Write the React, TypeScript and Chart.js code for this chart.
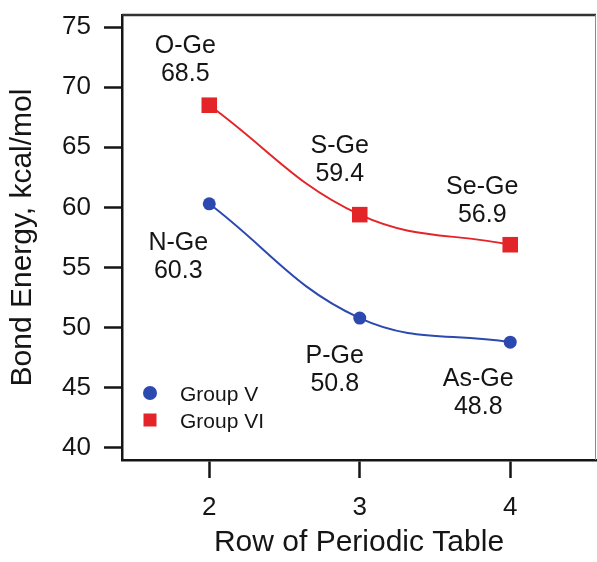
import React, { useEffect, useRef } from 'react';
import { Chart, registerables } from 'chart.js';

Chart.register(...registerables);

const FONT = "'Liberation Sans', Arial, Helvetica, sans-serif";

// ---- data ----
const rows = [2, 3, 4];
const groupVValues = [60.3, 50.8, 48.8];
const groupVIValues = [68.5, 59.4, 56.9];
const groupVBonds = ['N-Ge', 'P-Ge', 'As-Ge'];
const groupVIBonds = ['O-Ge', 'S-Ge', 'Se-Ge'];
const seriesNames = ['Group V', 'Group VI'];
const xTickValues = [2, 3, 4];
const yTickValues = [40, 45, 50, 55, 60, 65, 70, 75];

// ---- label placement (pixel offsets from each point: [dx, dy of first line centre]) ----
const groupVLabelOffsets = [[-31, 37], [-25, 36], [-32, 35]];
const groupVILabelOffsets = [[-24, -61], [-20, -71], [-28, -60]];

const BLUE = '#2c49b0';
const RED = '#e3252a';
const INK = '#151515';

const annotatePlugin = {
  id: 'annotate',
  afterDatasetsDraw(chart: any) {
    const ctx = chart.ctx;
    ctx.save();
    const size = 25;
    ctx.font = `${size}px ${FONT}`;
    ctx.fillStyle = INK;
    ctx.textAlign = 'center';
    ctx.textBaseline = 'alphabetic';
    const half = size * 0.358;
    chart.data.datasets.forEach((ds: any, di: number) => {
      const meta = chart.getDatasetMeta(di);
      meta.data.forEach((pt: any, i: number) => {
        const [dx, dy] = ds.labelOffsets[i];
        const x = pt.x + dx;
        const y = pt.y + dy;
        ctx.fillText(ds.bondNames[i], x, y + half);
        ctx.fillText(ds.data[i].y.toFixed(1), x, y + 28 + half);
      });
    });
    ctx.restore();
  },
};

const framePlugin = {
  id: 'frame',
  afterDraw(chart: any) {
    const { ctx, chartArea } = chart;
    ctx.save();
    ctx.strokeStyle = '#333';
    ctx.lineWidth = 2.5;
    ctx.beginPath();
    ctx.moveTo(chartArea.left, chartArea.top);
    ctx.lineTo(chartArea.right, chartArea.top);
    ctx.stroke();
    ctx.strokeStyle = '#8a8a8a';
    ctx.lineWidth = 1;
    ctx.beginPath();
    ctx.moveTo(chartArea.right - 0.5, chartArea.top);
    ctx.lineTo(chartArea.right - 0.5, chartArea.bottom);
    ctx.stroke();
    ctx.restore();
  },
};

const legendPlugin = {
  id: 'innerLegend',
  afterDraw(chart: any) {
    const { ctx, chartArea } = chart;
    ctx.save();
    ctx.font = `21px ${FONT}`;
    ctx.textAlign = 'left';
    ctx.textBaseline = 'alphabetic';
    const x0 = chartArea.left + 28;
    const ys = [chartArea.bottom - 67, chartArea.bottom - 40];
    chart.data.datasets.forEach((ds: any, di: number) => {
      const y = ys[di];
      ctx.fillStyle = ds.backgroundColor;
      if (ds.pointStyle === 'rect') {
        ctx.fillRect(x0 - 6.5, y - 6.5, 13, 13);
      } else {
        ctx.beginPath();
        ctx.arc(x0, y, 7, 0, Math.PI * 2);
        ctx.fill();
      }
      ctx.fillStyle = INK;
      ctx.fillText(ds.label, x0 + 30, y + 21 * 0.358);
    });
    ctx.restore();
  },
};

const zeroPadding = (s: any) => {
  s.paddingTop = 0;
  s.paddingBottom = 0;
  s.paddingLeft = 0;
  s.paddingRight = 0;
};

export default function App() {
  const ref = useRef<HTMLCanvasElement>(null);

  useEffect(() => {
    if (!ref.current) return;
    const tickFont = { family: FONT, size: 26 };
    const titleFont = { family: FONT, size: 30, lineHeight: 1 };
    const chart = new Chart(ref.current, {
      type: 'line',
      data: {
        datasets: [
          {
            label: seriesNames[0],
            data: rows.map((r, i) => ({ x: r, y: groupVValues[i] })),
            borderColor: BLUE,
            backgroundColor: BLUE,
            pointBackgroundColor: BLUE,
            pointBorderColor: BLUE,
            pointStyle: 'circle',
            pointRadius: 6.5,
            pointBorderWidth: 0,
            borderWidth: 2,
            tension: 0.4,
            bondNames: groupVBonds,
            labelOffsets: groupVLabelOffsets,
          } as any,
          {
            label: seriesNames[1],
            data: rows.map((r, i) => ({ x: r, y: groupVIValues[i] })),
            borderColor: RED,
            backgroundColor: RED,
            pointBackgroundColor: RED,
            pointBorderColor: RED,
            pointStyle: 'rect',
            pointRadius: 11,
            pointBorderWidth: 0,
            borderWidth: 2,
            tension: 0.4,
            bondNames: groupVIBonds,
            labelOffsets: groupVILabelOffsets,
          } as any,
        ],
      },
      options: {
        responsive: false,
        animation: false,
        events: [],
        layout: { autoPadding: false, padding: { top: 15, right: 1, left: 0, bottom: 0 } },
        plugins: {
          legend: { display: false },
          tooltip: { enabled: false },
        },
        scales: {
          x: {
            type: 'linear',
            min: 1.42,
            max: 4.57,
            afterBuildTicks: (s: any) => {
              s.ticks = xTickValues.map((v) => ({ value: v }));
            },
            afterFit: (s: any) => {
              s.height = 102;
              zeroPadding(s);
            },
            grid: {
              drawOnChartArea: false,
              drawTicks: true,
              tickLength: 18,
              tickWidth: 2.5,
              tickColor: INK,
            },
            border: { display: true, color: INK, width: 2.5 },
            ticks: { color: INK, font: tickFont, padding: 14 },
            title: {
              display: true,
              text: 'Row of Periodic Table',
              color: INK,
              font: titleFont,
              padding: { top: 0, bottom: 4 },
            },
          },
          y: {
            type: 'linear',
            min: 39,
            max: 76,
            afterBuildTicks: (s: any) => {
              s.ticks = yTickValues.map((v) => ({ value: v }));
            },
            afterFit: (s: any) => {
              s.width = 122;
              zeroPadding(s);
            },
            grid: {
              drawOnChartArea: false,
              drawTicks: true,
              tickLength: 18,
              tickWidth: 2.5,
              tickColor: INK,
            },
            border: { display: true, color: INK, width: 2.5 },
            ticks: { color: INK, font: tickFont, padding: 13 },
            title: {
              display: true,
              text: 'Bond Energy, kcal/mol',
              color: INK,
              font: titleFont,
              padding: { top: 8, bottom: 0 },
            },
          },
        },
      } as any,
      plugins: [annotatePlugin, framePlugin, legendPlugin],
    });
    return () => chart.destroy();
  }, []);

  return (
    <div style={{ position: 'absolute', left: 0, top: 0, width: 597, height: 562, background: '#fff' }}>
      <canvas ref={ref} width={597} height={562} style={{ display: 'block' }} />
    </div>
  );
}
